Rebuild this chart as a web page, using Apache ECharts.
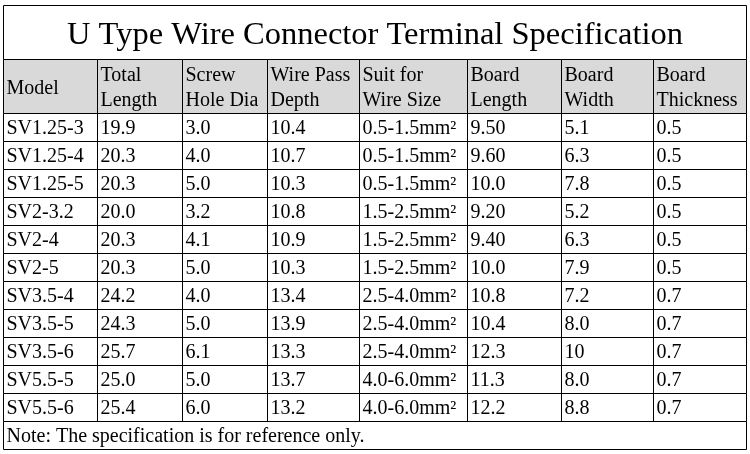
<!DOCTYPE html>
<html>
<head>
<meta charset="utf-8">
<script src="https://cdn.jsdelivr.net/npm/echarts@6/dist/echarts.min.js"></script>
<style>html,body{margin:0;padding:0;background:#fff;}#c{width:750px;height:454px;}</style>
</head>
<body>
<div id="c"></div>
<script>
// ---- data ----
const title = 'U Type Wire Connector Terminal Specification';
const headers = ['Model', 'Total\nLength', 'Screw\nHole Dia', 'Wire Pass\nDepth', 'Suit for\nWire Size', 'Board\nLength', 'Board\nWidth', 'Board\nThickness'];
const models = ['SV1.25-3', 'SV1.25-4', 'SV1.25-5', 'SV2-3.2', 'SV2-4', 'SV2-5', 'SV3.5-4', 'SV3.5-5', 'SV3.5-6', 'SV5.5-5', 'SV5.5-6'];
const totalLength = ['19.9', '20.3', '20.3', '20.0', '20.3', '20.3', '24.2', '24.3', '25.7', '25.0', '25.4'];
const screwHoleDia = ['3.0', '4.0', '5.0', '3.2', '4.1', '5.0', '4.0', '5.0', '6.1', '5.0', '6.0'];
const wirePassDepth = ['10.4', '10.7', '10.3', '10.8', '10.9', '10.3', '13.4', '13.9', '13.3', '13.7', '13.2'];
const wireSize = ['0.5-1.5mm²', '0.5-1.5mm²', '0.5-1.5mm²', '1.5-2.5mm²', '1.5-2.5mm²', '1.5-2.5mm²', '2.5-4.0mm²', '2.5-4.0mm²', '2.5-4.0mm²', '4.0-6.0mm²', '4.0-6.0mm²'];
const boardLength = ['9.50', '9.60', '10.0', '9.20', '9.40', '10.0', '10.8', '10.4', '12.3', '11.3', '12.2'];
const boardWidth = ['5.1', '6.3', '7.8', '5.2', '6.3', '7.9', '7.2', '8.0', '10', '8.0', '8.8'];
const boardThickness = ['0.5', '0.5', '0.5', '0.5', '0.5', '0.5', '0.7', '0.7', '0.7', '0.7', '0.7'];
const note = 'Note: The specification is for reference only.';

// ---- layout ----
const colWidths = [94, 85, 85, 92, 108, 94, 92, 93];
const titleH = 54, headerH = 54, rowH = 28, noteH = 28;
const FONT = '"Liberation Serif", "Times New Roman", serif';
const columns = [models, totalLength, screwHoleDia, wirePassDepth, wireSize, boardLength, boardWidth, boardThickness];

const colEdges = [0];
colWidths.forEach(w => colEdges.push(colEdges[colEdges.length - 1] + w));
const totalW = colEdges[colEdges.length - 1];
const totalH = titleH + headerH + rowH * models.length + noteH;

const cells = [];
cells.push({ x0: 0, x1: totalW, y0: 0, y1: titleH, text: title, fill: '#ffffff', size: 32.5, center: true, dy: 3 });
headers.forEach((h, c) => {
  cells.push({ x0: colEdges[c], x1: colEdges[c + 1], y0: titleH, y1: titleH + headerH, text: h, fill: '#d9d9d9', size: 20, dy: 2 });
});
models.forEach((m, r) => {
  const y0 = titleH + headerH + r * rowH;
  columns.forEach((col, c) => {
    cells.push({ x0: colEdges[c], x1: colEdges[c + 1], y0: y0, y1: y0 + rowH, text: col[r], fill: '#ffffff', size: 20, dy: 1 });
  });
});
const ny = titleH + headerH + rowH * models.length;
cells.push({ x0: 0, x1: totalW, y0: ny, y1: ny + noteH, text: note, fill: '#ffffff', size: 20, dy: 1 });

const chart = echarts.init(document.getElementById('c'));
chart.setOption({
  animation: false,
  backgroundColor: '#ffffff',
  grid: { left: 3.5, top: 5.5, width: totalW, height: totalH },
  xAxis: { type: 'value', min: 0, max: totalW, show: false },
  yAxis: { type: 'value', min: 0, max: totalH, inverse: true, show: false },
  series: [{
    type: 'custom',
    coordinateSystem: 'cartesian2d',
    data: cells.map(c => [c.x0, c.x1, c.y0, c.y1]),
    encode: { x: [0, 1], y: [2, 3] },
    clip: false,
    renderItem: function (params, api) {
      const cell = cells[params.dataIndex];
      const p0 = api.coord([api.value(0), api.value(2)]);
      const p1 = api.coord([api.value(1), api.value(3)]);
      const cy = (p0[1] + p1[1]) / 2;
      return {
        type: 'group',
        children: [
          { type: 'rect', shape: { x: p0[0], y: p0[1], width: p1[0] - p0[0], height: p1[1] - p0[1] },
            style: { fill: cell.fill, stroke: '#000000', lineWidth: 1 } },
          { type: 'text', x: cell.center ? (p0[0] + p1[0]) / 2 : p0[0] + 3, y: cy + cell.dy,
            style: { text: cell.text, fill: '#000000', fontSize: cell.size, fontFamily: FONT,
              align: cell.center ? 'center' : 'left', verticalAlign: 'middle', lineHeight: 25 } }
        ]
      };
    }
  }]
});
</script>
</body>
</html>
